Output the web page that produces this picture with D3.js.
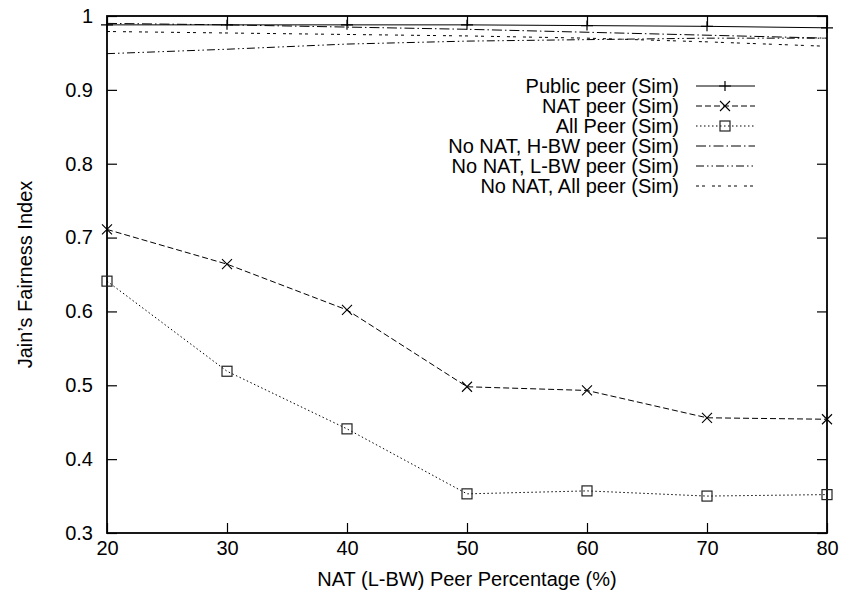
<!DOCTYPE html>
<html>
<head>
<meta charset="utf-8">
<script src="https://cdn.jsdelivr.net/npm/d3@7"></script>
<style>
  body { margin: 0; background: #fff; }
  svg text { font-family: "Liberation Sans", Arial, Helvetica, sans-serif; font-size: 20px; fill: #000; }
</style>
</head>
<body>
<div id="chart"></div>
<script>
// data
const peerPercent = [20, 30, 40, 50, 60, 70, 80];
const publicPeer = [0.988, 0.988, 0.988, 0.988, 0.987, 0.986, 0.984];
const natPeer = [0.711, 0.664, 0.602, 0.498, 0.493, 0.456, 0.454];
const allPeer = [0.641, 0.519, 0.441, 0.353, 0.357, 0.350, 0.352];
const noNatHbw = [0.990, 0.988, 0.985, 0.982, 0.978, 0.974, 0.970];
const noNatLbw = [0.949, 0.955, 0.962, 0.966, 0.968, 0.970, 0.970];
const noNatAll = [0.979, 0.977, 0.975, 0.973, 0.970, 0.965, 0.959];
const yTicks = [0.3, 0.4, 0.5, 0.6, 0.7, 0.8, 0.9, 1];

const width = 846, height = 598;
const margin = { top: 16, right: 19, bottom: 65, left: 107 };
const plotW = width - margin.left - margin.right;
const plotH = height - margin.top - margin.bottom;

var series = [
  { name: "Public peer (Sim)", values: publicPeer, dash: null, marker: "plus" },
  { name: "NAT peer (Sim)", values: natPeer, dash: "6,3", marker: "cross" },
  { name: "All Peer (Sim)", values: allPeer, dash: "1.5,2.5", marker: "square" },
  { name: "No NAT, H-BW peer (Sim)", values: noNatHbw, dash: "10,3,1.5,3", marker: null },
  { name: "No NAT, L-BW peer (Sim)", values: noNatLbw, dash: "8,3,1.5,3,1.5,3", marker: null },
  { name: "No NAT, All peer (Sim)", values: noNatAll, dash: "3,3,3,7", marker: null }
];

var x = d3.scaleLinear().domain([20, 80]).range([0, plotW]);
var y = d3.scaleLinear().domain([0.3, 1]).range([plotH, 0]);

var svg = d3
  .select("#chart")
  .append("svg")
  .attr("width", width)
  .attr("height", height);

var g = svg.append("g").attr("transform", "translate(" + margin.left + "," + margin.top + ")");

// inward ticks on all four sides
function tidy(sel) {
  sel.select(".domain").remove();
  sel.selectAll(".tick line").attr("stroke", "#000").attr("stroke-width", 1.2);
}

g.append("g")
  .attr("transform", "translate(0," + plotH + ")")
  .call(d3.axisBottom(x).tickValues(peerPercent).tickSize(-10).tickPadding(8).tickFormat(d3.format("d")))
  .call(tidy)
  .selectAll("text").style("font-size", "20px").style("font-family", null);

g.append("g")
  .call(d3.axisTop(x).tickValues(peerPercent).tickSize(-10).tickFormat(""))
  .call(tidy);

g.append("g")
  .call(d3.axisLeft(y).tickValues(yTicks).tickSize(-10).tickPadding(14).tickFormat(function (d) { return d === 1 ? "1" : d3.format(".1f")(d); }))
  .call(tidy)
  .selectAll("text").style("font-size", "20px").style("font-family", null);

g.append("g")
  .attr("transform", "translate(" + plotW + ",0)")
  .call(d3.axisRight(y).tickValues(yTicks).tickSize(-10).tickFormat(""))
  .call(tidy);

g.append("rect")
  .attr("width", plotW)
  .attr("height", plotH)
  .attr("fill", "none")
  .attr("stroke", "#000")
  .attr("stroke-width", 1.8);

function drawMarker(sel, type, cx, cy) {
  if (type === "plus") {
    sel.append("path").attr("d", "M" + (cx - 6) + "," + cy + "H" + (cx + 6) + "M" + cx + "," + (cy - 5) + "V" + (cy + 5))
      .attr("stroke", "#000").attr("stroke-width", 1.2).attr("fill", "none");
  } else if (type === "cross") {
    sel.append("path").attr("d", "M" + (cx - 5) + "," + (cy - 5) + "L" + (cx + 5) + "," + (cy + 5) + "M" + (cx - 5) + "," + (cy + 5) + "L" + (cx + 5) + "," + (cy - 5))
      .attr("stroke", "#000").attr("stroke-width", 1.1).attr("fill", "none");
  } else if (type === "square") {
    sel.append("rect").attr("x", cx - 5).attr("y", cy - 5).attr("width", 10).attr("height", 10)
      .attr("stroke", "#222").attr("stroke-width", 1.2).attr("fill", "none");
  }
}

var line = d3.line()
  .x(function (d, i) { return x(peerPercent[i]); })
  .y(function (d) { return y(d); });

series.forEach(function (s) {
  g.append("path")
    .attr("d", line(s.values))
    .attr("fill", "none")
    .attr("stroke", "#000")
    .attr("stroke-width", 1)
    .attr("stroke-dasharray", s.dash);
  if (s.marker) {
    s.values.forEach(function (v, i) {
      drawMarker(g, s.marker, x(peerPercent[i]), y(v));
    });
  }
});

// legend
var legend = svg.append("g");
series.forEach(function (s, i) {
  var ly = 86 + i * 20;
  legend.append("text")
    .attr("x", 679)
    .attr("y", ly)
    .attr("dy", "0.35em")
    .attr("text-anchor", "end")
    .text(s.name);
  legend.append("line")
    .attr("x1", 696).attr("x2", 755)
    .attr("y1", ly).attr("y2", ly)
    .attr("stroke", "#000")
    .attr("stroke-width", 1)
    .attr("stroke-dasharray", s.dash);
  if (s.marker) drawMarker(legend, s.marker, 725, ly);
});

// axis titles
svg.append("text")
  .attr("x", margin.left + plotW / 2)
  .attr("y", 586)
  .attr("text-anchor", "middle")
  .text("NAT (L-BW) Peer Percentage (%)");

svg.append("text")
  .attr("transform", "translate(32," + (margin.top + plotH / 2) + ") rotate(-90)")
  .attr("text-anchor", "middle")
  .text("Jain\u2019s Fairness Index");
</script>
</body>
</html>
